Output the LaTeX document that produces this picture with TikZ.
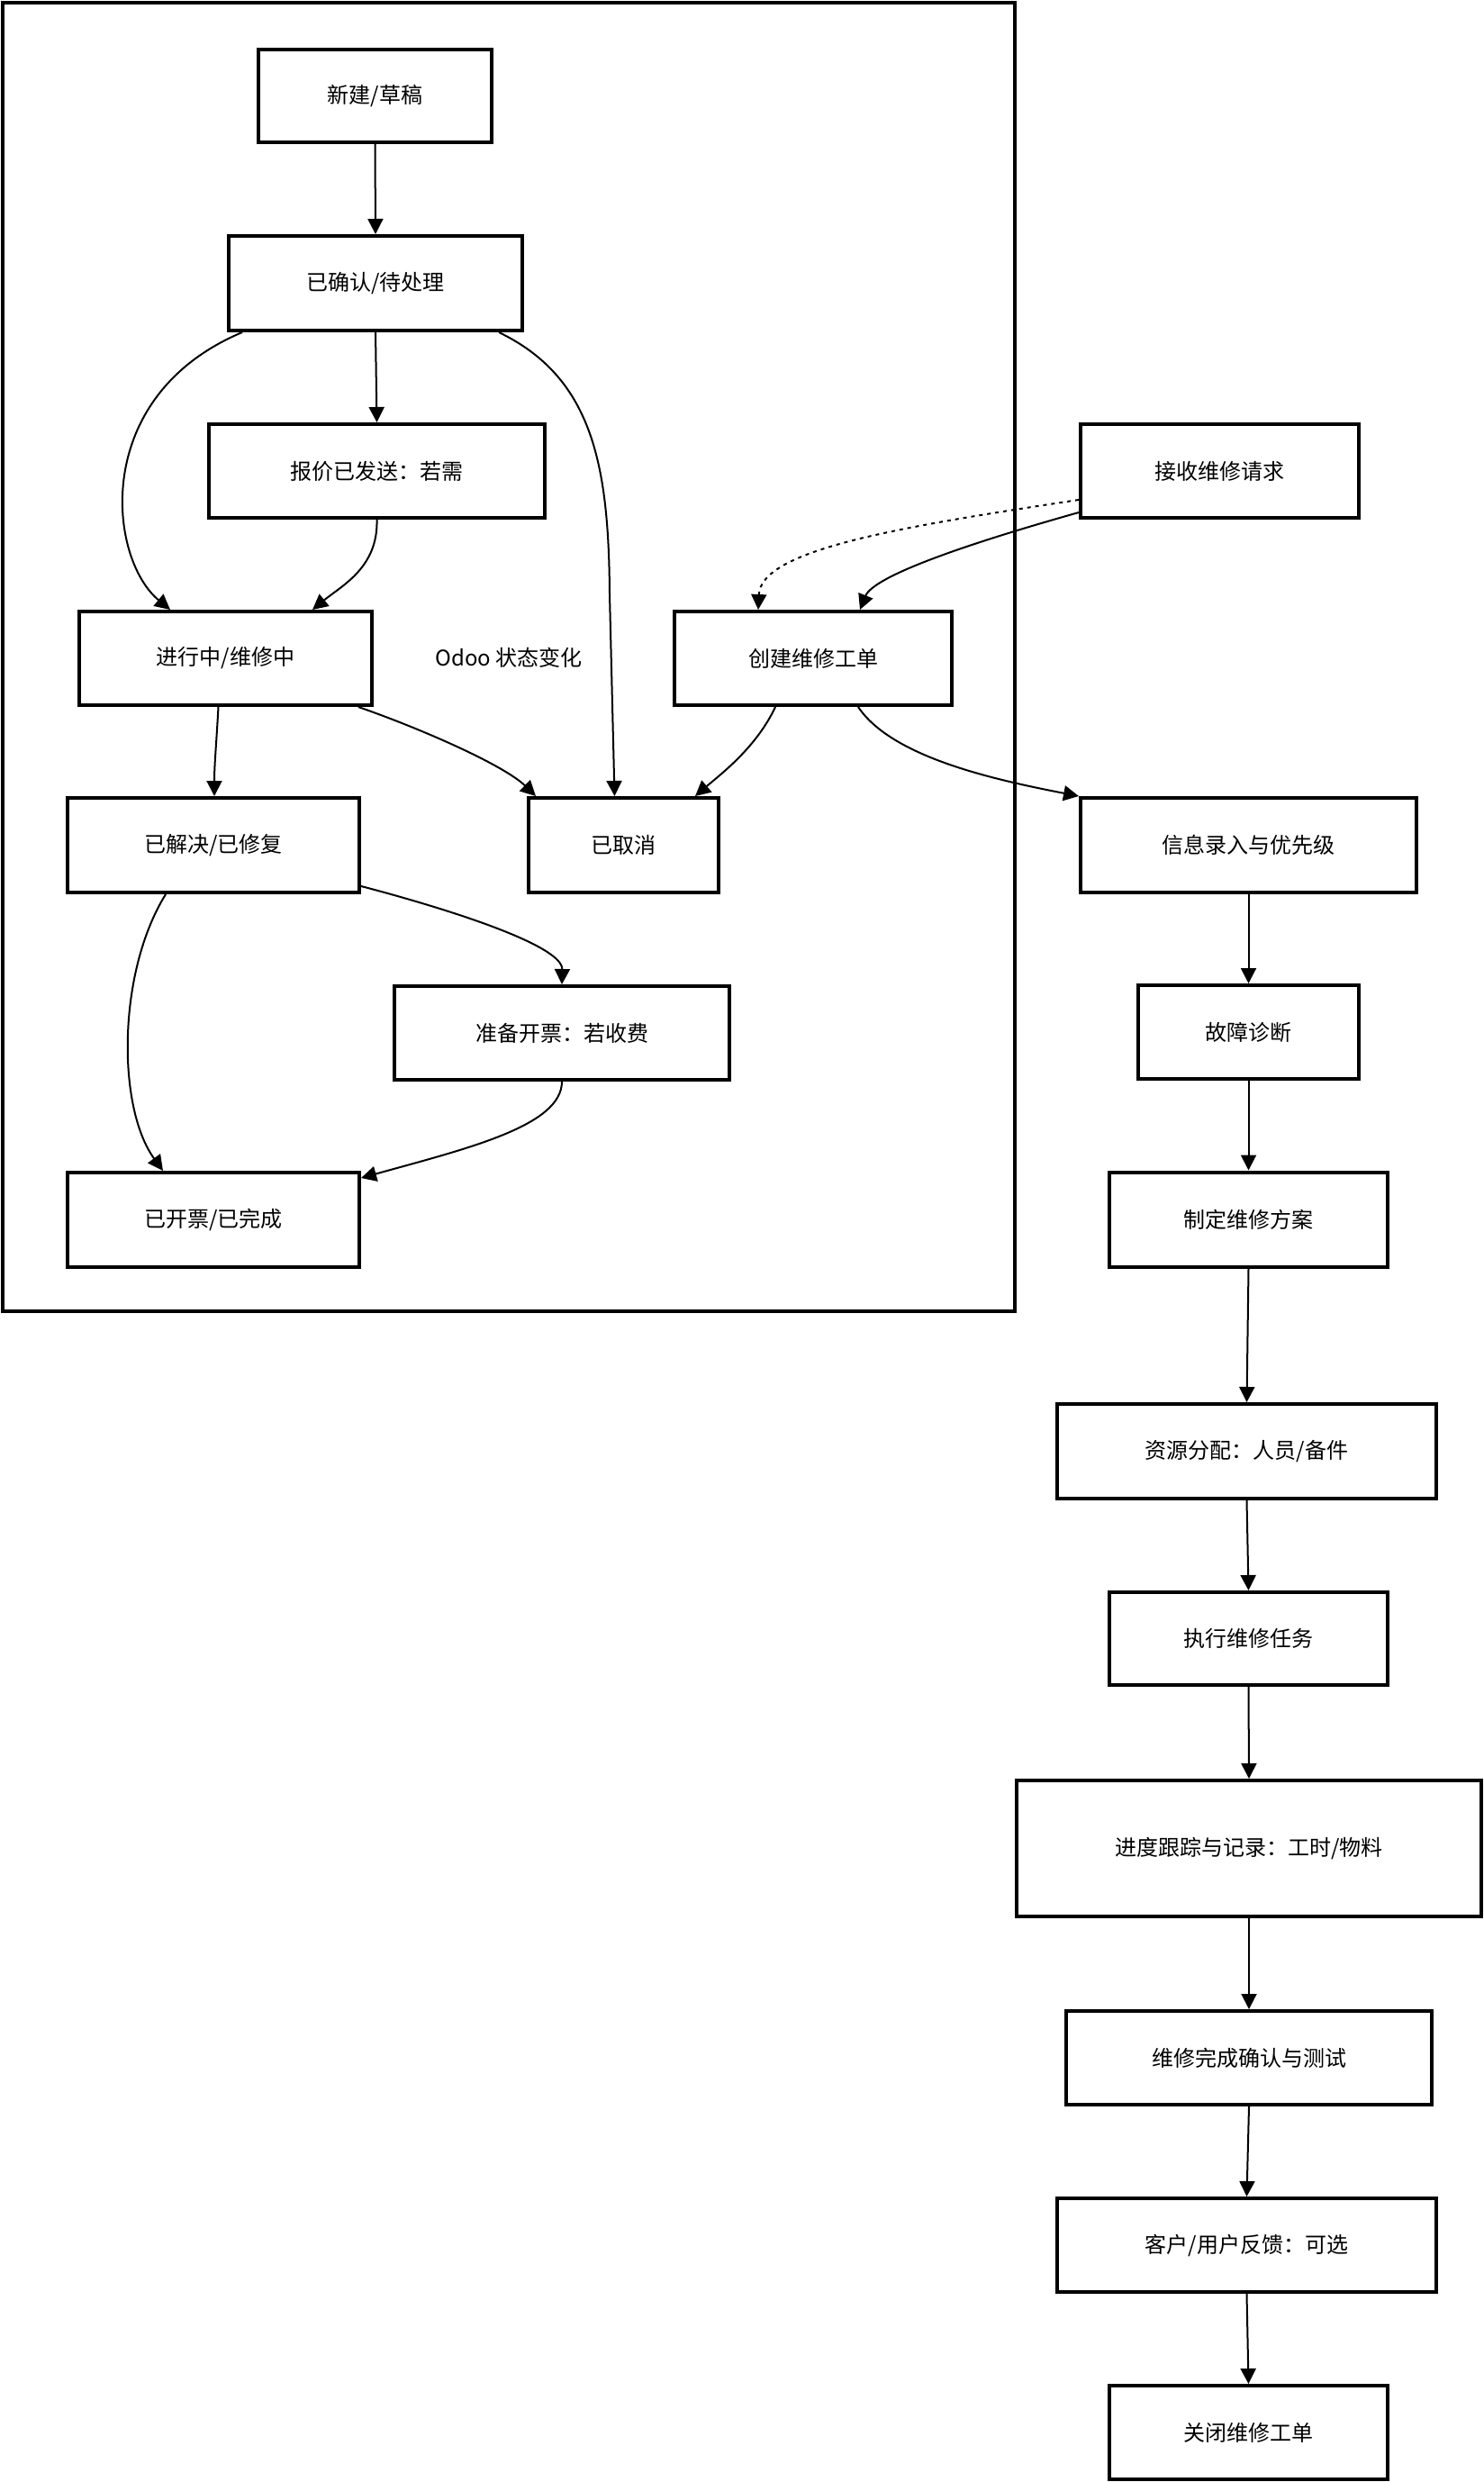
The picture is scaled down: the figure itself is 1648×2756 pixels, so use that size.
\documentclass[tikz,border=0pt]{standalone}
\usepackage{fontspec}
\setmainfont{Noto Sans CJK SC}
\usetikzlibrary{arrows.meta,calc}
\begin{document}
\begin{tikzpicture}[x=0.5pt,y=-0.5pt,
  box/.style={draw, line width=2pt, rectangle, inner sep=0pt, font=\fontsize{12}{14}\selectfont},
  lbl/.style={inner sep=0pt, font=\fontsize{12}{14}\selectfont},
  edge/.style={line width=1pt, -{Triangle[length=8.5pt,width=8.5pt]}},
  dotedge/.style={edge, dash pattern=on 2pt off 2.5pt},
  frame/.style={draw, line width=2pt}]
\useasboundingbox (0,0) rectangle (1648,2756);
\draw[frame] (3,3) rectangle (1127,1456);
% left group
\node[box, minimum width=129.5pt, minimum height=51.5pt] (n1) at (416.5,106.5) {新建/草稿};
\node[box, minimum width=163pt, minimum height=52.5pt] (n2) at (417,314.5) {已确认/待处理};
\node[box, minimum width=186.5pt, minimum height=52pt] (n3) at (418.5,523) {报价已发送：若需};
\node[box, minimum width=162.5pt, minimum height=52pt] (n4) at (250.5,731) {进行中/维修中};
\node[lbl] (lab) at (565,730) {Odoo 状态变化};
\node[box, minimum width=154pt, minimum height=52pt] (n5) at (903,731) {创建维修工单};
\node[box, minimum width=162pt, minimum height=52.5pt] (n7) at (237,938.5) {已解决/已修复};
\node[box, minimum width=105.5pt, minimum height=52.5pt] (n8) at (692.5,938.5) {已取消};
\node[box, minimum width=186pt, minimum height=52pt] (n10) at (624,1147) {准备开票：若收费};
\node[box, minimum width=162pt, minimum height=52.5pt] (n12) at (237,1354.5) {已开票/已完成};
% right column
\node[box, minimum width=154.5pt, minimum height=52pt] (n6) at (1354.5,523) {接收维修请求};
\node[box, minimum width=186.5pt, minimum height=52.5pt] (n9) at (1386.5,938.5) {信息录入与优先级};
\node[box, minimum width=122.5pt, minimum height=52pt] (n11) at (1386.5,1146) {故障诊断};
\node[box, minimum width=154.5pt, minimum height=52.5pt] (n13) at (1386.5,1354) {制定维修方案};
\node[box, minimum width=210.5pt, minimum height=52.5pt] (n14) at (1384.5,1611.5) {资源分配：人员/备件};
\node[box, minimum width=154.5pt, minimum height=51.5pt] (n15) at (1386.5,1819.5) {执行维修任务};
\node[box, minimum width=258pt, minimum height=75.5pt] (n16) at (1387,2052.5) {进度跟踪与记录：工时/物料};
\node[box, minimum width=203pt, minimum height=52pt] (n17) at (1387,2285) {维修完成确认与测试};
\node[box, minimum width=210.5pt, minimum height=52pt] (n18) at (1384.5,2493) {客户/用户反馈：可选};
\node[box, minimum width=154.5pt, minimum height=52pt] (n19) at (1386.5,2701) {关闭维修工单};
% edges
\draw[edge] (n1.south) -- (n2.north);
\draw[edge] (n2.south) -- (n3.north);
\draw[edge] ($(n2.south west)+(17,0)$) .. controls (100,440) and (120,620) .. ($(n4.north west)+(103,0)$);
\draw[edge] ($(n2.south east)+(-28,0)$) .. controls (660,420) and (676,520) .. (677,660) -- ($(n8.north)+(-10,0)$);
\draw[edge] (n3.south) .. controls (420,630) and (380,650) .. ($(n4.north east)+(-68,0)$);
\draw[edge] ($(n4.south)+(-8,0)$) .. controls (240,830) and (238,850) .. ($(n7.north)+(1,0)$);
\draw[edge] ($(n4.south east)+(-17,0)$) .. controls (470,810) and (560,850) .. ($(n8.north west)+(10,0)$);
\draw[edge] ($(n5.south west)+(114,0)$) .. controls (840,830) and (800,860) .. ($(n8.north east)+(-28,0)$);
\draw[edge] ($(n5.south east)+(-106,0)$) .. controls (990,840) and (1100,865) .. (n9.north west);
\draw[edge] ($(n6.south west)+(0,-8)$) .. controls (1070,605) and (970,640) .. ($(n5.north east)+(-104,0)$);
\draw[dotedge] ($(n6.south west)+(0,-22)$) .. controls (1000,585) and (845,610) .. ($(n5.north west)+(95,0)$);
\draw[edge] ($(n7.south west)+(111,0)$) .. controls (130,1080) and (130,1230) .. ($(n12.north west)+(108,0)$);
\draw[edge] ($(n7.south east)+(0,-9)$) .. controls (500,1010) and (625,1050) .. (n10.north);
\draw[edge] (n10.south) .. controls (624,1250) and (520,1275) .. ($(n12.north east)+(0,8)$);
\draw[edge] (n9.south) -- (n11.north);
\draw[edge] (n11.south) -- (n13.north);
\draw[edge] (n13.south) -- (n14.north);
\draw[edge] (n14.south) -- (n15.north);
\draw[edge] (n15.south) -- (n16.north);
\draw[edge] (n16.south) -- (n17.north);
\draw[edge] (n17.south) -- (n18.north);
\draw[edge] (n18.south) -- (n19.north);
\end{tikzpicture}
\end{document}
